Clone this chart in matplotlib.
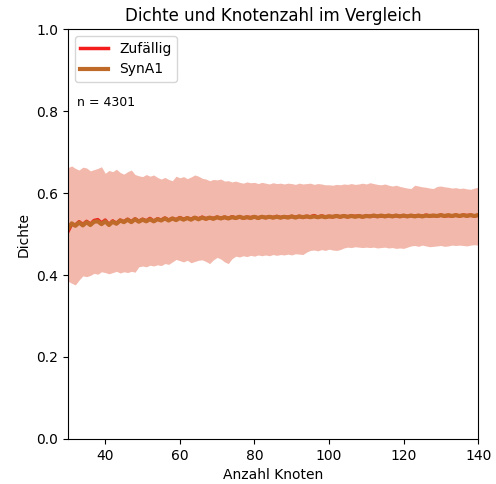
import numpy as np
import matplotlib
matplotlib.use("Agg")
import matplotlib.pyplot as plt

# Anzahl Knoten 30..140
knoten = np.arange(30, 141)

zufaellig_mean = [
    .506, .524, .522, .530, .523, .531, .524, .533, .535, .527,
    .534, .523, .532, .526, .534, .530, .536, .530, .537, .531,
    .536, .532, .538, .531, .537, .534, .539, .534, .538, .535,
    .540, .536, .539, .536, .540, .537, .541, .537, .540, .538,
    .541, .538, .541, .538, .542, .539, .542, .539, .541, .540,
    .542, .539, .542, .540, .542, .540, .543, .540, .542, .541,
    .543, .541, .543, .541, .543, .542, .545, .541, .544, .542,
    .543, .542, .544, .542, .544, .542, .544, .543, .544, .542,
    .544, .543, .545, .543, .544, .543, .545, .543, .545, .543,
    .545, .543, .545, .544, .545, .543, .546, .544, .545, .544,
    .546, .544, .545, .544, .546, .544, .546, .545, .546, .544, .546]

syna1_mean = [
    .512, .526, .520, .528, .521, .529, .522, .530, .531, .524,
    .531, .522, .530, .525, .533, .529, .535, .529, .536, .530,
    .535, .531, .536, .531, .536, .533, .538, .533, .538, .534,
    .539, .535, .539, .535, .540, .536, .540, .537, .540, .537,
    .541, .538, .541, .538, .541, .539, .542, .539, .541, .539,
    .542, .539, .542, .540, .542, .540, .542, .540, .542, .540,
    .543, .540, .543, .541, .543, .541, .543, .541, .543, .541,
    .543, .542, .544, .542, .544, .542, .544, .542, .544, .542,
    .544, .543, .545, .543, .545, .543, .545, .543, .545, .543,
    .545, .543, .545, .543, .545, .543, .545, .544, .545, .544,
    .546, .544, .546, .544, .546, .544, .546, .544, .546, .544, .546]

band_oben = [
    .662, .666, .660, .656, .663, .661, .654, .657, .660, .664,
    .648, .655, .652, .658, .650, .646, .652, .656, .645, .642,
    .640, .645, .641, .644, .638, .634, .638, .633, .630, .641,
    .637, .640, .635, .639, .644, .641, .636, .634, .630, .633,
    .632, .634, .629, .630, .627, .629, .626, .624, .627, .625,
    .626, .623, .626, .624, .622, .625, .623, .624, .622, .624,
    .623, .621, .624, .622, .623, .624, .621, .623, .622, .620,
    .620, .619, .621, .620, .622, .621, .623, .621, .622, .624,
    .622, .625, .623, .621, .620, .622, .619, .617, .619, .616,
    .614, .612, .611, .619, .617, .615, .614, .612, .611, .616,
    .617, .615, .614, .612, .613, .611, .612, .610, .609, .612, .614]

band_unten = [
    .385, .380, .376, .388, .398, .396, .399, .404, .402, .408,
    .406, .403, .406, .409, .405, .408, .406, .409, .407, .420,
    .422, .420, .424, .422, .425, .423, .428, .426, .432, .438,
    .435, .432, .436, .430, .433, .436, .437, .433, .428, .437,
    .443, .439, .432, .428, .440, .446, .444, .447, .445, .448,
    .446, .449, .447, .449, .447, .450, .448, .450, .449, .451,
    .449, .452, .451, .450, .456, .460, .461, .459, .462, .460,
    .463, .461, .460, .462, .466, .468, .467, .469, .468, .467,
    .468, .467, .468, .466, .467, .468, .466, .467, .465, .466,
    .465, .468, .471, .472, .470, .473, .471, .469, .470, .471,
    .472, .470, .471, .473, .472, .473, .472, .471, .473, .474, .473]

anzahl = 4301

fig, ax = plt.subplots(figsize=(4.96, 4.84), dpi=100)
fig.subplots_adjust(left=0.137, right=0.964, top=0.940, bottom=0.093)

ax.fill_between(knoten, band_unten, band_oben, color="red", alpha=0.2, linewidth=0)
ax.fill_between(knoten, band_unten, band_oben, color="#c06a2a", alpha=0.2, linewidth=0)
ax.plot(knoten, zufaellig_mean, color="#f41c1c", lw=2.5, label="Zufällig")
ax.plot(knoten, syna1_mean, color="#c06a2a", lw=3, label="SynA1")

ax.set_xlim(30, 140)
ax.set_ylim(0, 1)
ax.set_title("Dichte und Knotenzahl im Vergleich")
ax.set_xlabel("Anzahl Knoten")
ax.set_ylabel("Dichte")
ax.legend(loc="upper left")
ax.text(0.022, 0.812, f"n = {anzahl}", transform=ax.transAxes, fontsize=9)

fig.savefig("out.png", dpi=100)
